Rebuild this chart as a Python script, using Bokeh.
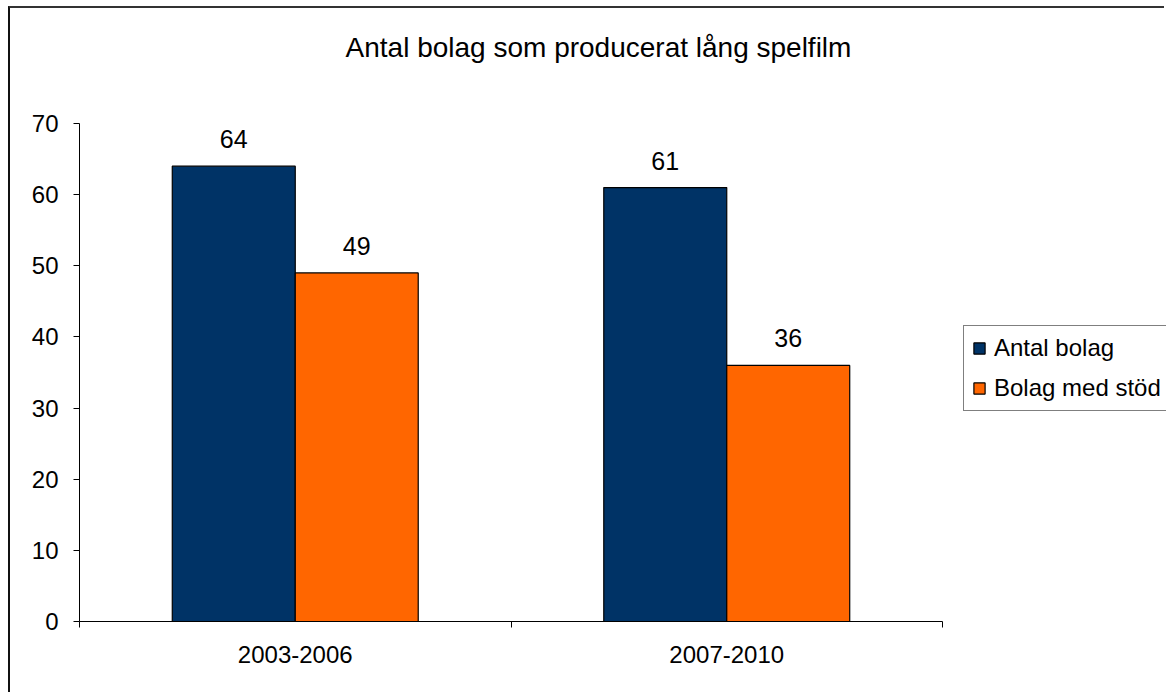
from bokeh.plotting import figure
from bokeh.models import (ColumnDataSource, FixedTicker, Legend, LegendItem, Range1d, Label)
from bokeh.embed import file_html
from bokeh.resources import INLINE
from bokeh.core.properties import value

# ---- data ----
periods = ["2003-2006", "2007-2010"]
series_names = ["Antal bolag", "Bolag med stöd"]
antal_bolag = [64, 61]
bolag_med_stod = [49, 36]
colors = ["#003366", "#FF6600"]
title_text = "Antal bolag som producerat lång spelfilm"
y_ticks = [0, 10, 20, 30, 40, 50, 60, 70]
y_max = 70

FONT = "Liberation Sans"

# layout constants (pixels)
W, H = 1156, 686
FR_LEFT, FR_BOTTOM = 69, 73           # frame offsets inside the figure
CAT_PX = 431.5                         # width of one category slot
AXIS_H = 498                           # height of the 0..70 value axis
frame_w = W - FR_LEFT
frame_h = H - FR_BOTTOM

p = figure(width=W, height=H, output_backend="svg", toolbar_location=None,
           x_range=Range1d(0, frame_w / CAT_PX),
           y_range=Range1d(0, y_max * frame_h / AXIS_H),
           min_border=0, min_border_left=FR_LEFT, min_border_right=0,
           min_border_top=0, min_border_bottom=FR_BOTTOM)
p.styles = {"margin-left": "8px", "margin-top": "6px",
            "border-left": "2px solid #111", "border-top": "2px solid #333"}
p.outline_line_color = None
p.xgrid.visible = False
p.ygrid.visible = False
p.background_fill_color = "white"
p.border_fill_color = "white"

centers = [i + 0.5 for i in range(len(periods))]
bw = 0.285
off = bw / 2
renderers = []
for vals, col, sgn in [(antal_bolag, colors[0], -1), (bolag_med_stod, colors[1], 1)]:
    src = ColumnDataSource(dict(x=[c + sgn * off for c in centers], top=vals,
                                lab=[str(v) for v in vals]))
    r = p.vbar(x="x", top="top", width=bw, source=src, fill_color=col,
               line_color="black", line_width=1.2)
    renderers.append(r)
    p.text(x="x", y="top", text="lab", source=src, text_align="center",
           text_baseline="bottom", y_offset=-18, text_font=value(FONT),
           text_font_size="25px", text_color="black")

# axes
xa = p.xaxis[0]
xa.bounds = (0, len(periods))
xa.ticker = FixedTicker(ticks=centers, minor_ticks=list(range(len(periods) + 1)))
xa.major_label_overrides = {c: lab for c, lab in zip(centers, periods)}
xa.major_tick_out = 0
xa.major_tick_in = 0
xa.minor_tick_out = 6
xa.minor_tick_in = 0
xa.minor_tick_line_color = "black"
xa.axis_line_color = "black"
xa.major_label_standoff = 18
xa.major_label_text_font = FONT
xa.major_label_text_font_size = "24px"
xa.major_label_text_color = "black"

ya = p.yaxis[0]
ya.bounds = (0, y_max)
ya.ticker = FixedTicker(ticks=y_ticks)
ya.minor_tick_line_color = None
ya.major_tick_out = 6
ya.major_tick_in = 0
ya.major_tick_line_color = "black"
ya.axis_line_color = "black"
ya.major_label_standoff = 15
ya.major_label_text_font = FONT
ya.major_label_text_font_size = "24px"
ya.major_label_text_color = "black"

# title (inside the tall frame, above the value axis)
p.add_layout(Label(x=519, y=574, x_units="screen", y_units="screen", text=title_text,
                   text_align="center", text_baseline="middle", text_font=FONT,
                   text_font_size="28px", text_color="black"))

legend = Legend(items=[LegendItem(label=series_names[i], renderers=[renderers[i]])
                       for i in range(2)],
                location=(884, 210), label_text_font=FONT, label_text_font_size="24px",
                label_text_color="black",
                glyph_width=14, glyph_height=14, label_height=28, spacing=12,
                padding=8, margin=0, label_standoff=8,
                border_line_color="black", border_line_width=1.2,
                background_fill_color="white", background_fill_alpha=1)
p.add_layout(legend, "center")

open("out.html", "w").write(file_html(p, INLINE))
